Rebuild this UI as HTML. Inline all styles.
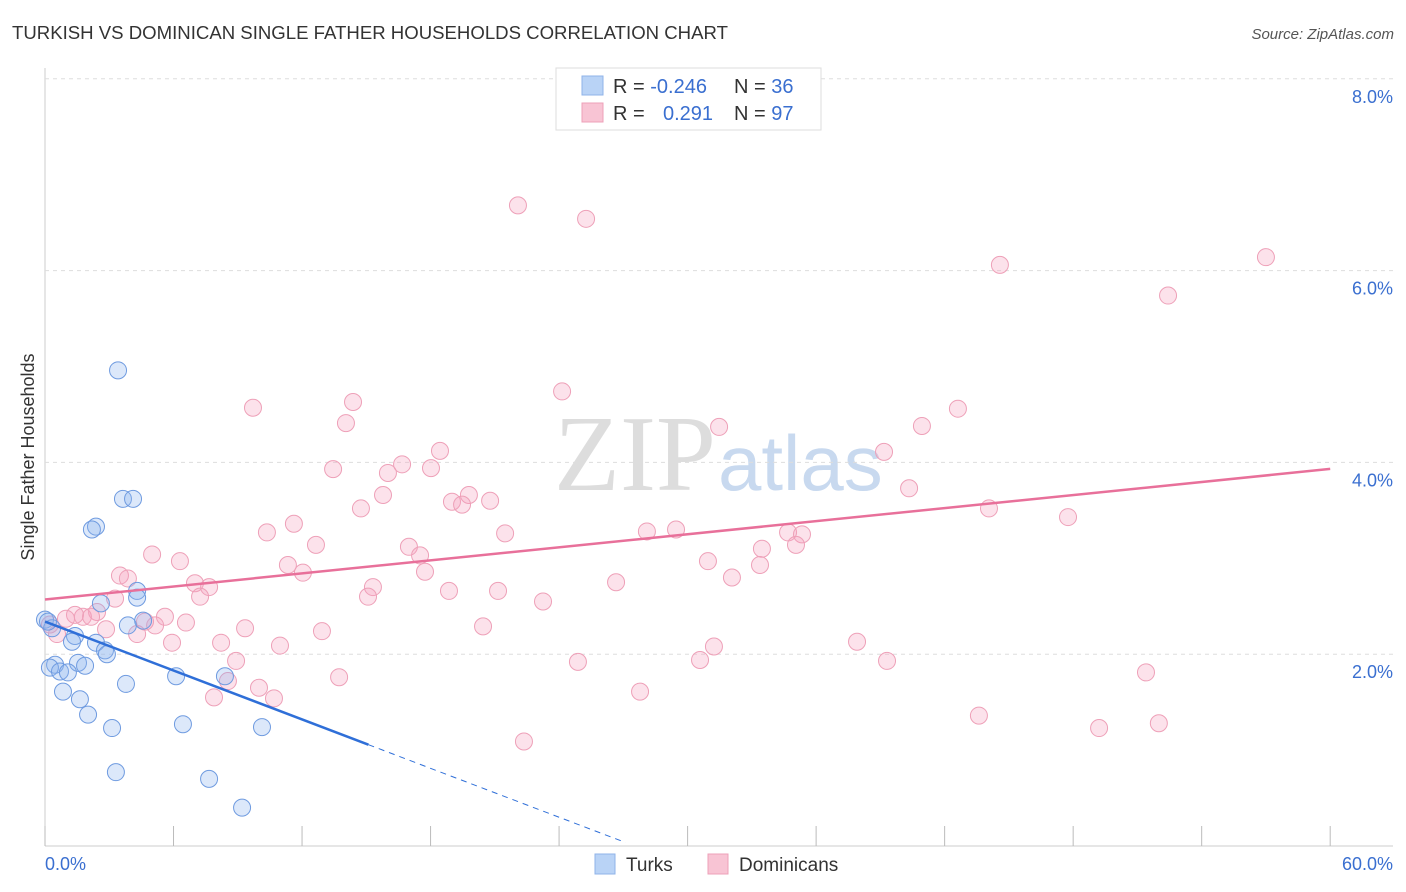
<!DOCTYPE html>
<html><head><meta charset="utf-8"><style>
body{margin:0;background:#fff;font-family:"Liberation Sans",sans-serif;}
svg{display:block}
</style></head><body>
<svg id="c" width="1406" height="892" xmlns="http://www.w3.org/2000/svg">
<text x="12" y="39" font-size="18.6" fill="#333">TURKISH VS DOMINICAN SINGLE FATHER HOUSEHOLDS CORRELATION CHART</text>
<text x="1394" y="39" font-size="15" fill="#555" text-anchor="end" font-style="italic">Source: ZipAtlas.com</text>
<text x="716" y="490" font-size="108" fill="#ddd" text-anchor="end" font-family="Liberation Serif,serif">ZIP</text>
<text x="718" y="490" font-size="78" fill="#c8d9ef">atlas</text>
<g id="grid"></g>
<g id="pts"></g>
<g id="lines"></g>
<text transform="translate(34,457) rotate(-90)" font-size="18" fill="#333" text-anchor="middle">Single Father Households</text>
<text x="45" y="870" font-size="18" fill="#3a6fd0">0.0%</text>
<text x="1393" y="870" font-size="18" fill="#3a6fd0" text-anchor="end">60.0%</text>
<g>
<rect x="556" y="68" width="265" height="62" fill="#fff" stroke="#ddd"/>
<rect x="582" y="76" width="21" height="19" fill="#b9d3f6" stroke="#8fb3e8"/>
<rect x="582" y="103" width="21" height="19" fill="#f8c4d4" stroke="#eea0b8"/>
<text x="613" y="93" font-size="20" fill="#333">R = <tspan fill="#3a6fd0">-0.246</tspan></text>
<text x="734" y="93" font-size="20" fill="#333">N = <tspan fill="#3a6fd0">36</tspan></text>
<text x="613" y="120" font-size="20" fill="#333">R = </text>
<text x="663" y="120" font-size="20" fill="#3a6fd0">0.291</text>
<text x="734" y="120" font-size="20" fill="#333">N = <tspan fill="#3a6fd0">97</tspan></text>
</g>
<g>
<rect x="595" y="854" width="20" height="20" fill="#b9d3f6" stroke="#8fb3e8"/>
<text x="626" y="871" font-size="19" fill="#333">Turks</text>
<rect x="708" y="854" width="20" height="20" fill="#f8c4d4" stroke="#eea0b8"/>
<text x="739" y="871" font-size="19" fill="#333">Dominicans</text>
</g>
</svg>
<script>
const yTicks=[2,4,6,8];
const yTickLabels=["2.0%","4.0%","6.0%","8.0%"];
const xTicks=[0,6,12,18,24,30,36,42,48,54,60];
const turksX=[3.41,3.64,4.11,2.38,2.19,4.30,4.30,2.61,4.58,3.87,0,1.40,1.26,2.38,2.80,2.89,0.47,0.23,1.54,1.87,0.70,1.07,6.12,8.40,3.78,0.84,1.63,2.01,6.44,10.13,3.13,3.31,7.66,9.20,0.33,0.14];
const turksY=[4.96,3.62,3.62,3.33,3.30,2.66,2.59,2.53,2.35,2.30,2.36,2.19,2.13,2.12,2.04,2.00,1.89,1.86,1.91,1.88,1.82,1.81,1.77,1.77,1.69,1.61,1.53,1.37,1.27,1.24,1.23,0.77,0.70,0.40,2.27,2.34];
const domX=[22.08,25.26,44.58,57.0,52.43,24.14,9.71,14.38,42.62,14.05,31.47,40.94,18.44,39.17,16.67,13.45,18.02,16.01,40.34,15.78,19.79,19.0,20.78,19.47,14.75,44.07,47.76,11.62,10.36,21.48,28.1,29.46,34.69,35.34,12.65,16.99,5.0,17.51,33.47,35.06,6.30,11.34,30.95,12.04,17.74,3.50,3.87,33.38,32.07,26.66,7.0,7.66,15.31,7.24,18.86,21.15,15.08,3.27,23.25,2.43,1.77,1.40,0.98,2.15,5.60,6.58,5.14,9.34,20.45,12.93,2.85,4.30,0.56,0.23,8.22,10.97,5.93,37.91,31.23,8.92,24.88,30.58,39.31,8.54,13.73,51.4,9.99,10.69,7.89,27.78,43.6,52.0,49.21,22.36,4.67];
const domY=[6.68,6.54,6.06,6.14,5.74,4.74,4.57,4.63,4.56,4.41,4.37,4.38,4.12,4.11,3.98,3.93,3.94,3.89,3.73,3.66,3.66,3.59,3.60,3.56,3.52,3.52,3.43,3.36,3.27,3.26,3.28,3.30,3.27,3.25,3.14,3.12,3.04,3.03,3.10,3.14,2.97,2.93,2.97,2.85,2.86,2.82,2.79,2.93,2.80,2.75,2.74,2.70,2.70,2.60,2.66,2.66,2.60,2.58,2.55,2.44,2.39,2.41,2.37,2.39,2.39,2.33,2.30,2.27,2.29,2.24,2.26,2.21,2.21,2.31,2.12,2.09,2.12,2.13,2.08,1.93,1.92,1.94,1.93,1.72,1.76,1.81,1.65,1.54,1.55,1.61,1.36,1.28,1.23,1.09,2.34];
const turksTrend=[2.34,-0.085];
const domTrend=[2.57,0.0227];
const NS="http://www.w3.org/2000/svg";
const X=v=>45+v*21.42, Y=v=>846-v*95.9;
function mk(t,a,p){const e=document.createElementNS(NS,t);for(const k in a)e.setAttribute(k,a[k]);p.appendChild(e);return e;}
const g=document.getElementById('grid');
mk('line',{x1:45,y1:68,x2:45,y2:846,stroke:'#ccc'},g);
mk('line',{x1:45,y1:846,x2:1393,y2:846,stroke:'#ccc'},g);
yTicks.forEach((t,i)=>{
 const l=mk('line',{x1:45,y1:Y(t),x2:1393,y2:Y(t),stroke:'#ddd','stroke-dasharray':'4,4'},g);
 
 
 const tx=mk('text',{x:1393,y:Y(t)+24,'font-size':18,fill:'#3a6fd0','text-anchor':'end'},g);
 tx.textContent=yTickLabels[i];
 
 
});
xTicks.forEach(t=>{
 const l=mk('line',{x1:X(t),y1:826,x2:X(t),y2:846,stroke:'#bbb'},g);
 
 
});
const p=document.getElementById('pts');
domX.forEach((x,i)=>{
 const c=mk('circle',{cx:X(x),cy:Y(domY[i]),r:8.5,fill:'rgba(244,160,188,0.3)',stroke:'#eea0b8','stroke-width':1},p);
 
 
});
turksX.forEach((x,i)=>{
 const c=mk('circle',{cx:X(x),cy:Y(turksY[i]),r:8.5,fill:'rgba(140,180,240,0.3)',stroke:'#6f9be0','stroke-width':1},p);
 
 
});
const L=document.getElementById('lines');
const dl=mk('line',{x1:X(0),y1:Y(domTrend[0]),x2:X(60),y2:Y(domTrend[0]+60*domTrend[1]),stroke:'#e8709a','stroke-width':2.5},L);


const tl=mk('line',{x1:X(0),y1:Y(turksTrend[0]),x2:X(15.1),y2:Y(turksTrend[0]+15.1*turksTrend[1]),stroke:'#2f6fd8','stroke-width':2.5},L);


const td=mk('line',{x1:X(15.1),y1:Y(turksTrend[0]+15.1*turksTrend[1]),x2:X(27.1),y2:Y(turksTrend[0]+27.1*turksTrend[1]),stroke:'#2f6fd8','stroke-width':1,'stroke-dasharray':'6,5'},L);


</script>
</body></html>
